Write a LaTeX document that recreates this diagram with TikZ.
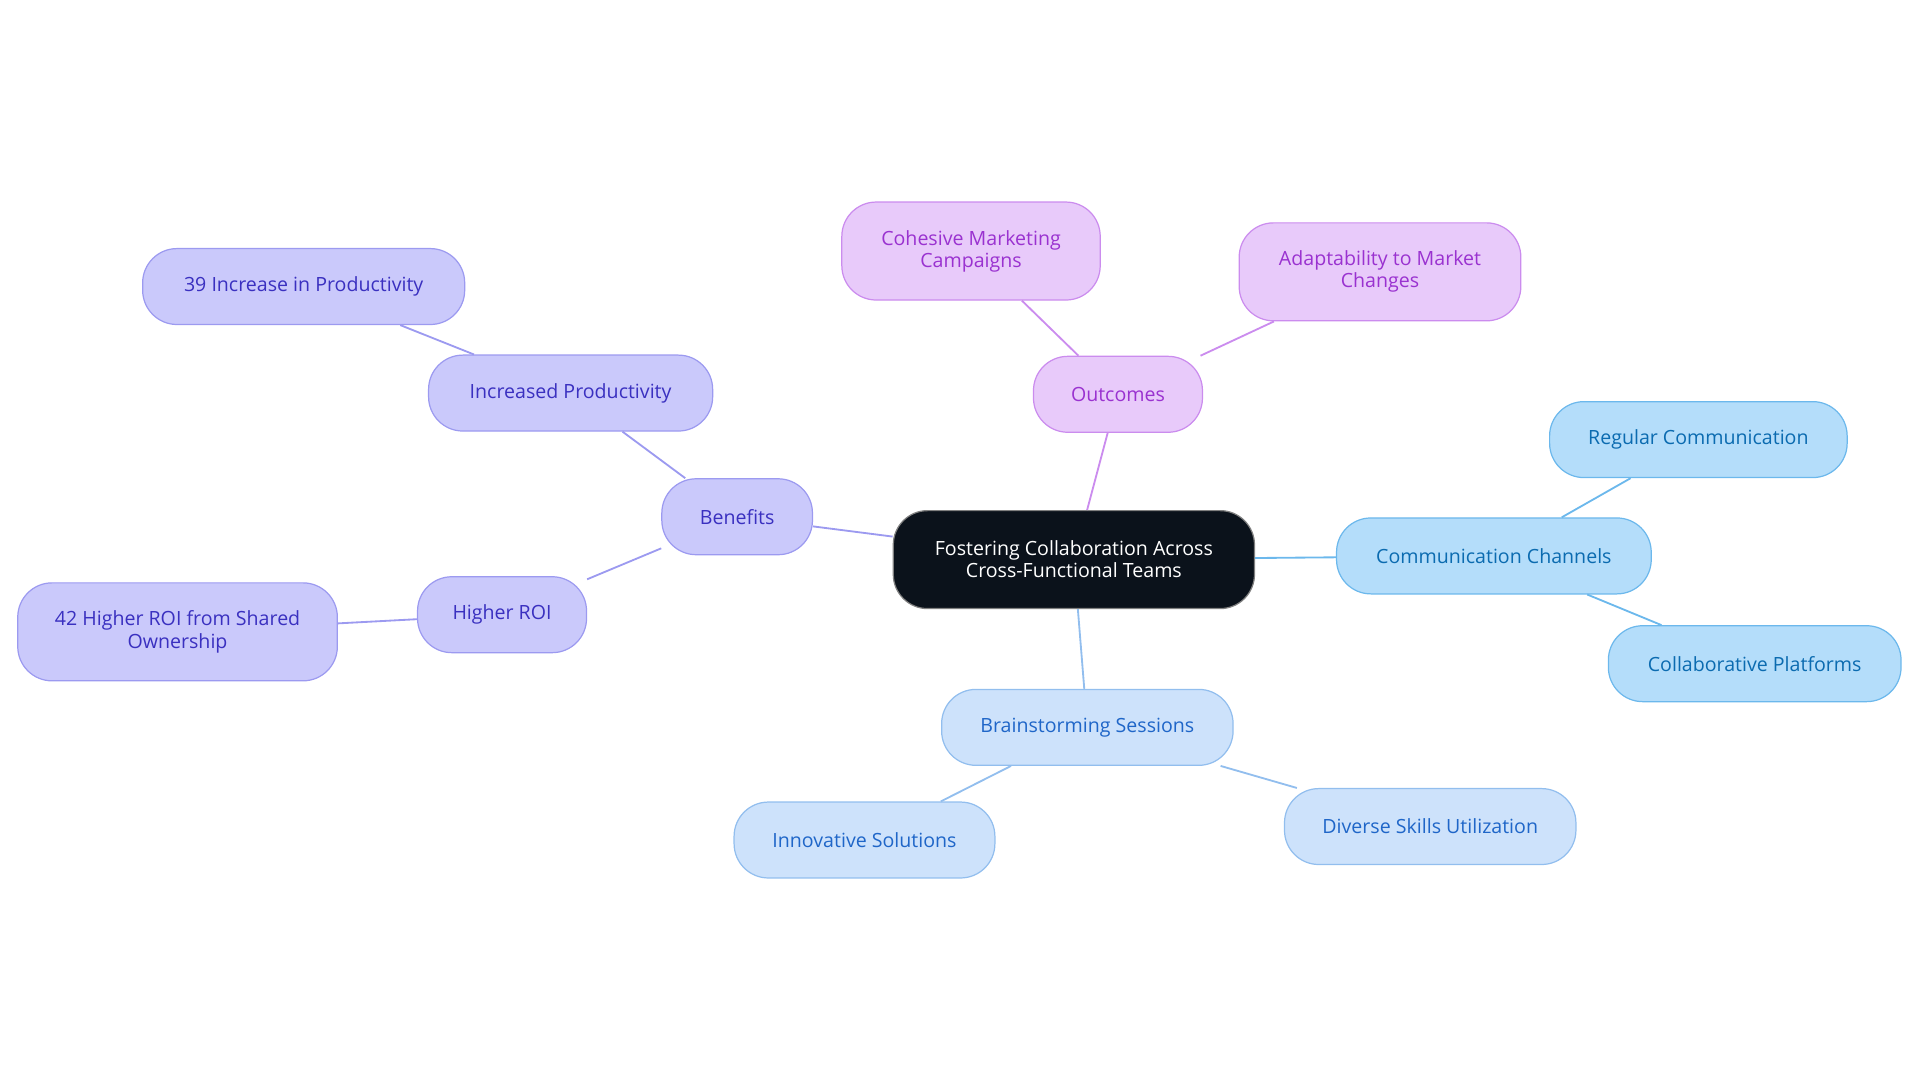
\documentclass[tikz,border=0pt]{standalone}
\usepackage{fontspec}
\setmainfont{Open Sans}
\definecolor{rootfill}{HTML}{0B121B}
\definecolor{benfill}{HTML}{CAC9FB}
\definecolor{bendraw}{HTML}{9C9AF0}
\definecolor{bentext}{HTML}{3A30C0}
\definecolor{outfill}{HTML}{E8CAFA}
\definecolor{outdraw}{HTML}{CB8CEE}
\definecolor{outtext}{HTML}{9A32D0}
\definecolor{comfill}{HTML}{B4DDFA}
\definecolor{comdraw}{HTML}{6CB8EC}
\definecolor{comtext}{HTML}{0B6BB0}
\definecolor{brafill}{HTML}{CDE2FB}
\definecolor{bradraw}{HTML}{92BEEE}
\definecolor{bratext}{HTML}{1F66C8}
\tikzset{
  box/.style={rounded corners=28pt, line width=1pt, align=center, inner sep=0pt,
    font=\fontsize{16}{18}\selectfont},
  ben/.style={box, draw=bendraw, fill=benfill, text=bentext},
  outc/.style={box, draw=outdraw, fill=outfill, text=outtext},
  com/.style={box, draw=comdraw, fill=comfill, text=comtext},
  bra/.style={box, draw=bradraw, fill=brafill, text=bratext},
}
\begin{document}
\begin{tikzpicture}[x=1pt,y=-1pt]
\useasboundingbox (0,0) rectangle (1568,884);
\node[box, draw=gray, fill=rootfill, text=white, minimum width=295pt, minimum height=80pt] (root) at (877,457) {Fostering Collaboration Across\\Cross-Functional Teams};
% benefits
\node[ben, minimum width=123pt, minimum height=62pt] (benefits) at (602,422) {Benefits};
\node[ben, minimum width=232pt, minimum height=62pt] (prod) at (466,321) {Increased Productivity};
\node[ben, minimum width=263pt, minimum height=62pt] (prod39) at (248,234) {39 Increase in Productivity};
\node[ben, minimum width=138pt, minimum height=62pt] (roi) at (410,502) {Higher ROI};
\node[ben, minimum width=261pt, minimum height=80pt] (roi42) at (145,516) {42 Higher ROI from Shared\\Ownership};
% outcomes
\node[outc, minimum width=138pt, minimum height=62pt] (outcomes) at (913,322) {Outcomes};
\node[outc, minimum width=211pt, minimum height=80pt] (cohesive) at (793,205) {Cohesive Marketing\\Campaigns};
\node[outc, minimum width=230pt, minimum height=80pt] (adapt) at (1127,222) {Adaptability to Market\\Changes};
% communication
\node[com, minimum width=257pt, minimum height=62pt] (comm) at (1220,454) {Communication Channels};
\node[com, minimum width=243pt, minimum height=62pt] (regular) at (1387,359) {Regular Communication};
\node[com, minimum width=239pt, minimum height=62pt] (platforms) at (1433,542) {Collaborative Platforms};
% brainstorming
\node[bra, minimum width=238pt, minimum height=62pt] (brain) at (888,594) {Brainstorming Sessions};
\node[bra, minimum width=213pt, minimum height=62pt] (innov) at (706,686) {Innovative Solutions};
\node[bra, minimum width=238pt, minimum height=62pt] (diverse) at (1168,675) {Diverse Skills Utilization};
% connectors
\begin{scope}[line width=1.5pt]
\draw[bendraw] (root) -- (benefits) (benefits) -- (prod) (prod) -- (prod39) (benefits) -- (roi) (roi) -- (roi42);
\draw[outdraw] (root) -- (outcomes) (outcomes) -- (cohesive) (outcomes) -- (adapt);
\draw[comdraw] (root) -- (comm) (comm) -- (regular) (comm) -- (platforms);
\draw[bradraw] (root) -- (brain) (brain) -- (innov) (brain) -- (diverse);
\end{scope}
\end{tikzpicture}
\end{document}
